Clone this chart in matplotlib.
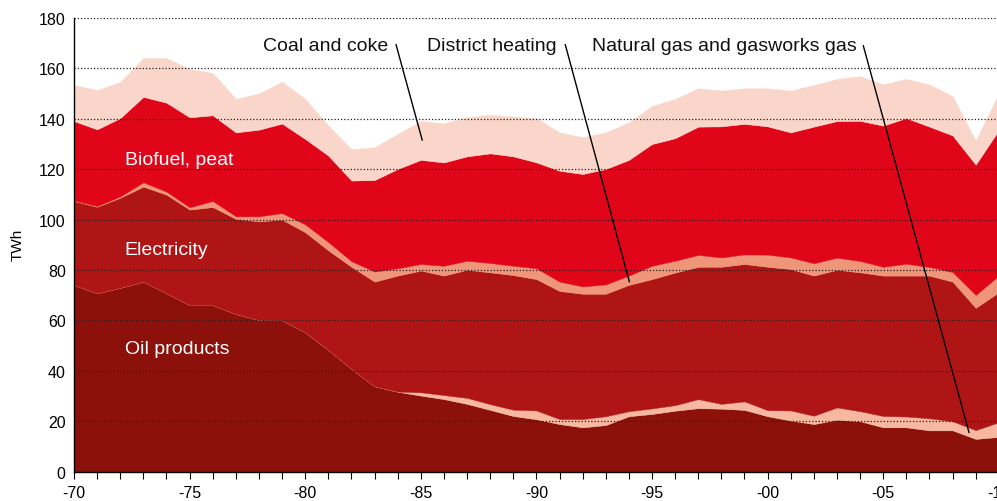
import matplotlib
matplotlib.use("Agg")
import matplotlib.pyplot as plt
import numpy as np

plt.rcParams['font.family'] = ['Liberation Sans', 'DejaVu Sans']

years = list(range(1970, 2011))

oil_products = [74.1, 70.8, 73.0, 75.4, 70.8, 66.1, 66.1, 62.6, 60.2, 60.1,
                55.3, 48.3, 40.8, 33.9, 31.7, 30.2, 28.8, 26.9, 24.5, 22.1,
                20.8, 18.9, 17.6, 18.5, 22.0, 22.9, 24.2, 25.2, 25.0, 24.5,
                22.0, 20.3, 18.9, 20.6, 20.0, 17.6, 17.6, 16.4, 16.4, 13.0, 13.8]
natural_gas = [0, 0, 0, 0, 0, 0, 0, 0, 0, 0,
               0, 0, 0, 0, 0.1, 1.3, 1.6, 2.4, 2.3, 2.5,
               3.5, 2.0, 3.3, 3.5, 2.0, 2.2, 2.2, 3.6, 1.9, 3.4,
               2.4, 4.0, 3.3, 4.9, 4.0, 4.5, 4.3, 4.8, 3.6, 3.5, 5.8]
electricity = [33.3, 34.3, 35.7, 37.7, 39.1, 37.9, 38.9, 37.7, 39.1, 39.9,
               39.7, 39.5, 40.5, 41.5, 46.0, 48.3, 47.4, 50.8, 52.3, 53.4,
               52.1, 50.8, 49.7, 48.6, 50.1, 51.3, 52.6, 52.5, 54.4, 54.5,
               56.9, 56.1, 55.6, 54.6, 55.1, 55.7, 55.9, 56.6, 55.4, 48.5, 51.6]
district_heating = [0.2, 0.3, 0.5, 1.7, 1.2, 0.9, 2.4, 1.0, 2.0, 2.6,
                    3.1, 3.3, 2.2, 4.0, 2.9, 2.6, 3.9, 3.6, 3.7, 3.7,
                    4.3, 3.7, 2.9, 3.7, 3.7, 5.3, 4.7, 4.7, 3.7, 3.8,
                    4.8, 4.6, 4.9, 4.8, 4.5, 3.5, 4.7, 3.4, 3.8, 5.1, 6.6]
biofuel_peat = [31.5, 30.4, 31.1, 33.9, 35.3, 35.7, 34.0, 33.3, 34.4, 35.5,
                33.9, 34.3, 32.0, 36.3, 39.4, 41.3, 41.0, 41.4, 43.5, 43.4,
                42.0, 44.0, 44.6, 45.8, 45.9, 48.3, 48.6, 50.9, 52.0, 51.8,
                50.9, 49.6, 54.2, 54.2, 55.6, 56.0, 57.8, 55.7, 54.2, 51.7, 57.7]
coal_coke = [14.3, 15.6, 14.4, 15.4, 17.7, 19.2, 16.8, 13.3, 14.4, 16.6,
             15.9, 11.9, 12.5, 13.0, 13.9, 15.4, 15.5, 15.5, 15.3, 15.8,
             17.5, 15.2, 14.6, 14.5, 14.9, 15.1, 15.6, 15.2, 14.2, 14.1,
             15.1, 16.6, 16.5, 16.7, 17.7, 16.4, 15.5, 16.7, 15.6, 9.5, 14.7]

series_names = ["Oil products", "Natural gas and gasworks gas", "Electricity",
                "District heating", "Biofuel, peat", "Coal and coke"]
colors = ["#8C110B", "#F6B8A0", "#B01515", "#EF957A", "#E10519", "#F9D6C9"]
x_tick_labels = ["-70", "-75", "-80", "-85", "-90", "-95", "-00", "-05", "-10"]

fig = plt.figure(figsize=(9.97, 5.02), dpi=100)
ax = fig.add_axes([74 / 997, (502 - 472.7) / 502, (998.8 - 74) / 997, (472.7 - 19) / 502])

x = np.array(years)
data = [oil_products, natural_gas, electricity, district_heating, biofuel_peat, coal_coke]
base = np.zeros(len(years))
for vals, col in zip(data, colors):
    top = base + np.array(vals)
    ax.fill_between(x, base, top, facecolor=col, edgecolor=col, linewidth=0.3, zorder=1)
    base = top

ax.set_xlim(1970, 2010)
ax.set_ylim(0, 180)
ax.set_yticks(range(0, 181, 20))
for yv in range(20, 181, 20):
    ax.axhline(yv, color="#222222", linestyle=(0, (1, 1.6)), linewidth=0.9, zorder=3)

ax.set_xticks(years)
lab_map = {1970 + 5 * i: l for i, l in enumerate(x_tick_labels)}
ax.set_xticklabels([lab_map.get(y, "") for y in years])
ax.tick_params(axis="x", length=4.8, width=0.8, direction="out", pad=4.5, labelsize=11.5)
ax.tick_params(axis="y", length=0, pad=6, labelsize=11.5)

for s in ["top", "right"]:
    ax.spines[s].set_visible(False)
ax.spines["left"].set_linewidth(1.0)
ax.spines["bottom"].set_linewidth(1.0)
ax.spines["left"].set_zorder(4)
ax.spines["bottom"].set_zorder(4)

fig.text(18 / 997, 1 - 245 / 502, "TWh", rotation=90, ha="center", va="center", fontsize=11)

# inside labels
ax.text(1972.2, 122.0, "Biofuel, peat", color="white", fontsize=14, va="baseline", ha="left", zorder=5)
ax.text(1972.2, 86.3, "Electricity", color="white", fontsize=14, va="baseline", ha="left", zorder=5)
ax.text(1972.2, 47.0, "Oil products", color="white", fontsize=14, va="baseline", ha="left", zorder=5)

# annotations with leader lines
ann = [
    ("Coal and coke", 1983.58, (1983.93, 169.4), (1985.06, 131.6)),
    ("District heating", 1990.89, (1991.25, 169.4), (1994.02, 75.4)),
    ("Natural gas and gasworks gas", 2003.87, (2004.14, 169.0), (2008.71, 15.6)),
]
for txt, xr, p0, p1 in ann:
    ax.text(xr, 167.5, txt, color="#111111", fontsize=14, ha="right", va="baseline", zorder=5)
    ax.plot([p0[0], p1[0]], [p0[1], p1[1]], color="black", linewidth=1.0, zorder=5,
            clip_on=False)

fig.savefig("out.png", dpi=100)
